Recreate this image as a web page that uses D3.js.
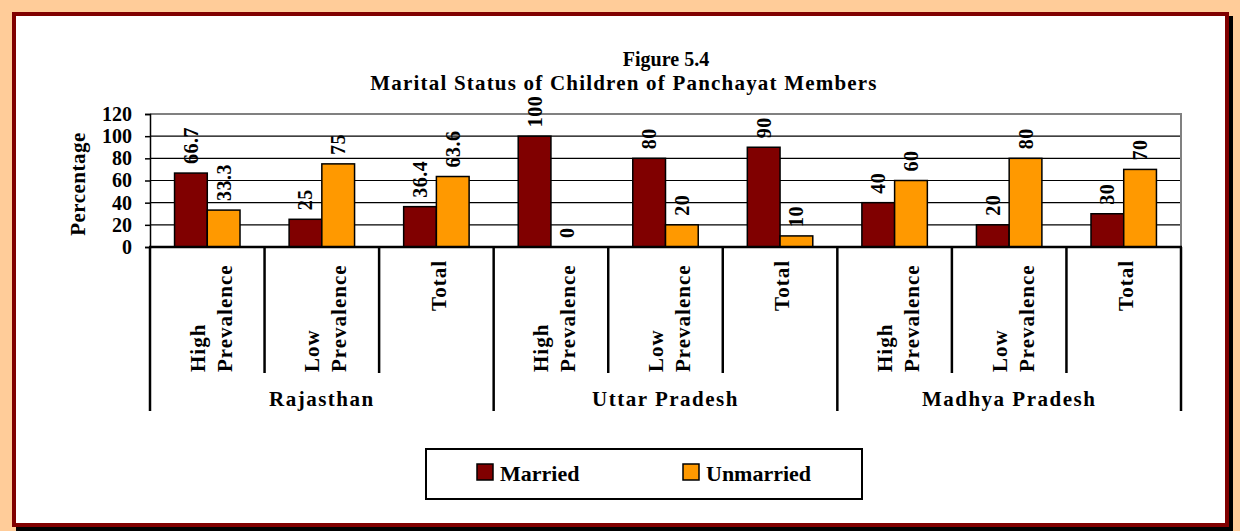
<!DOCTYPE html>
<html>
<head>
<meta charset="utf-8">
<script src="https://cdn.jsdelivr.net/npm/d3@7"></script>
<style>
  body { margin: 0; background: #ffcc99; }
  svg { display: block; }
  text { font-family: "Times New Roman", Times, "Liberation Serif", serif; font-weight: bold; fill: #000; }
</style>
</head>
<body>
<div id="chart"></div>
<script>
// data
const states = ["Rajasthan", "Uttar Pradesh", "Madhya Pradesh"];
const prevalence = [["High", "Prevalence"], ["Low", "Prevalence"], ["Total"]];
const seriesNames = ["Married", "Unmarried"];
const married = [66.7, 25, 36.4, 100, 80, 90, 40, 20, 30];
const unmarried = [33.3, 75, 63.6, 0, 20, 10, 60, 80, 70];
const yTicks = [0, 20, 40, 60, 80, 100, 120];
const colors = ["#800000", "#ff9900"];

const w = 1240;
const h = 531;
const plotLeft = 150, plotRight = 1181, plotTop = 114, plotBottom = 247;
const serif = "'Times New Roman', Times, 'Liberation Serif', serif";

// one row per state / prevalence pair
const rows = [];
states.forEach((s, i) => {
    prevalence.forEach((p, j) => {
        const k = i * prevalence.length + j;
        rows.push({key: s + " : " + p.join(" "), state: s, lines: p, values: [married[k], unmarried[k]]});
    });
});

const svg = d3.select("#chart")
              .append("svg")
              .attr("width", w)
              .attr("height", h);

svg.append("rect")
   .attr("width", w)
   .attr("height", h)
   .attr("fill", "#ffcc99");

// frame with shadow
svg.append("rect")
   .attr("x", 16).attr("y", 16)
   .attr("width", 1217).attr("height", 515)
   .attr("fill", "#000");
svg.append("rect")
   .attr("x", 14).attr("y", 14)
   .attr("width", 1213).attr("height", 511)
   .attr("fill", "#fff")
   .attr("stroke", "#800000")
   .attr("stroke-width", 4);

// title
svg.append("text")
   .attr("x", 666).attr("y", 66)
   .attr("text-anchor", "middle")
   .style("font-size", "20px")
   .text("Figure 5.4");
svg.append("text")
   .attr("x", 624).attr("y", 90)
   .attr("text-anchor", "middle")
   .style("font-size", "21px")
   .style("letter-spacing", "1.2px")
   .text("Marital Status of Children of Panchayat Members");

const x = d3.scaleBand()
            .domain(rows.map(d => d.key))
            .range([plotLeft, plotRight]);
const xSub = d3.scaleBand()
               .domain(seriesNames)
               .range([0, x.bandwidth()])
               .paddingInner(0)
               .paddingOuter(0.75);
const y = d3.scaleLinear()
            .domain([0, 120])
            .range([plotBottom, plotTop]);

// grid lines
svg.append("g")
   .selectAll("line")
   .data(yTicks.filter(t => t > 0 && t < 120))
   .enter().append("line")
   .attr("x1", plotLeft).attr("x2", plotRight)
   .attr("y1", d => y(d)).attr("y2", d => y(d))
   .attr("stroke", "#000")
   .attr("stroke-width", 1.2);

// plot border top / right
svg.append("path")
   .attr("d", `M${plotLeft},${y(120)}H${plotRight}V${plotBottom}`)
   .attr("fill", "none")
   .attr("stroke", "#808080")
   .attr("stroke-width", 2);

// bars
const cats = svg.selectAll("g.cat")
                .data(rows)
                .enter().append("g")
                .attr("class", "cat")
                .attr("transform", d => `translate(${x(d.key)},0)`);

cats.selectAll("rect")
    .data(d => d.values.map((v, i) => ({name: seriesNames[i], value: v, i: i})))
    .enter().append("rect")
    .attr("x", d => xSub(d.name))
    .attr("y", d => y(d.value))
    .attr("width", xSub.bandwidth())
    .attr("height", d => plotBottom - y(d.value))
    .attr("fill", d => colors[d.i])
    .attr("stroke", "#000")
    .attr("stroke-width", 1.5);

cats.selectAll("text.val")
    .data(d => d.values.map((v, i) => ({name: seriesNames[i], value: v})))
    .enter().append("text")
    .attr("class", "val")
    .attr("transform", d => `translate(${xSub(d.name) + xSub.bandwidth() / 2},${y(d.value) - 9}) rotate(-90)`)
    .attr("dy", "0.35em")
    .style("font-size", "20px")
    .style("letter-spacing", "0.5px")
    .text(d => d.value);

// y axis
const yAxis = d3.axisLeft(y)
                .tickValues(yTicks)
                .tickSize(5)
                .tickPadding(13);
const gy = svg.append("g")
              .attr("transform", `translate(${plotLeft},0)`)
              .call(yAxis);
gy.select(".domain").attr("stroke", "#000").attr("stroke-width", 1.5);
gy.selectAll(".tick line").attr("stroke", "#000").attr("stroke-width", 1.5);
gy.selectAll(".tick text")
  .style("font-family", serif)
  .style("font-weight", "bold")
  .style("font-size", "20px")
  .attr("fill", "#000");

svg.append("text")
   .attr("transform", "translate(78,184) rotate(-90)")
   .attr("text-anchor", "middle")
   .attr("dy", "0.35em")
   .style("font-size", "21px")
   .style("letter-spacing", "0.5px")
   .text("Percentage");

// category axis
svg.append("line")
   .attr("x1", plotLeft - 1).attr("x2", plotRight + 1)
   .attr("y1", plotBottom).attr("y2", plotBottom)
   .attr("stroke", "#000")
   .attr("stroke-width", 2.5);

const edges = rows.map(d => x(d.key)).concat([plotRight]);
svg.append("g")
   .selectAll("line")
   .data(edges)
   .enter().append("line")
   .attr("x1", d => d).attr("x2", d => d)
   .attr("y1", plotBottom)
   .attr("y2", (d, i) => i % prevalence.length === 0 ? 411 : 373)
   .attr("stroke", "#000")
   .attr("stroke-width", 2.5);

cats.each(function(d) {
    const cx = x.bandwidth() / 2;
    const g = d3.select(this);
    if (d.lines.length > 1) {
        const offs = [-10, 17];
        d.lines.forEach((line, i) => {
            g.append("text")
             .attr("transform", `translate(${cx + offs[i]},372) rotate(-90)`)
             .attr("dy", "0.35em")
             .attr("text-anchor", "start")
             .style("font-size", "21px")
             .style("letter-spacing", "1px")
             .text(line);
        });
    } else {
        g.append("text")
         .attr("transform", `translate(${cx + 2},260) rotate(-90)`)
         .attr("dy", "0.35em")
         .attr("text-anchor", "end")
         .style("font-size", "21px")
         .style("letter-spacing", "1px")
         .text(d.lines[0]);
    }
});

svg.append("g")
   .selectAll("text")
   .data(states)
   .enter().append("text")
   .attr("x", (d, i) => (x(rows[i * 3].key) + x(rows[i * 3 + 2].key) + x.bandwidth()) / 2)
   .attr("y", 406)
   .attr("text-anchor", "middle")
   .style("font-size", "21px")
   .style("letter-spacing", "1.5px")
   .text(d => d);

// legend
const legend = svg.append("g");
legend.append("rect")
      .attr("x", 426).attr("y", 449)
      .attr("width", 436).attr("height", 50)
      .attr("fill", "#fff")
      .attr("stroke", "#000")
      .attr("stroke-width", 2);

const items = legend.selectAll("g.item")
                    .data(seriesNames)
                    .enter().append("g")
                    .attr("class", "item")
                    .attr("transform", (d, i) => `translate(${477 + i * 206},464)`);
items.append("rect")
     .attr("width", 16).attr("height", 16)
     .attr("fill", (d, i) => colors[i])
     .attr("stroke", "#000")
     .attr("stroke-width", 1.5);
items.append("text")
     .attr("x", 23).attr("y", 17)
     .style("font-size", "22px")
     .text(d => d);
</script>
</body>
</html>
